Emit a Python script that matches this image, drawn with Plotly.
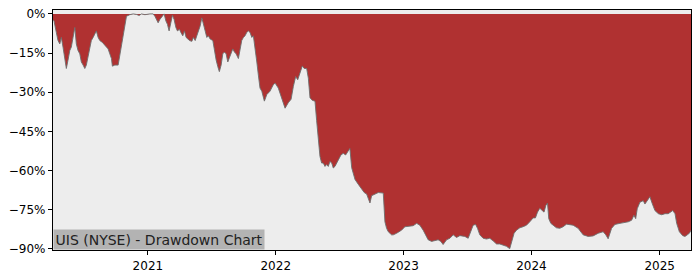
import datetime as dt
import plotly.graph_objects as go

# Decimal-year positions and drawdown values (%)
years = [
    2020.260, 2020.268, 2020.286, 2020.299, 2020.313, 2020.325, 2020.338, 2020.352, 2020.364, 2020.377,
    2020.391, 2020.403, 2020.416, 2020.430, 2020.442, 2020.455, 2020.469, 2020.481, 2020.495, 2020.508,
    2020.520, 2020.534, 2020.547, 2020.559, 2020.573, 2020.586, 2020.598, 2020.612, 2020.625, 2020.645,
    2020.664, 2020.677, 2020.690, 2020.703, 2020.716, 2020.723, 2020.742, 2020.768, 2020.781, 2020.794,
    2020.807, 2020.820, 2020.833, 2020.859, 2020.885, 2020.911, 2020.932, 2020.950, 2020.977, 2021.016,
    2021.041, 2021.055, 2021.067, 2021.080, 2021.094, 2021.109, 2021.127, 2021.141, 2021.153, 2021.166,
    2021.180, 2021.192, 2021.205, 2021.219, 2021.231, 2021.247, 2021.258, 2021.273, 2021.286, 2021.299,
    2021.313, 2021.325, 2021.344, 2021.356, 2021.370, 2021.383, 2021.395, 2021.409, 2021.422, 2021.434,
    2021.448, 2021.461, 2021.473, 2021.487, 2021.508, 2021.520, 2021.534, 2021.547, 2021.559, 2021.573,
    2021.586, 2021.598, 2021.612, 2021.625, 2021.638, 2021.651, 2021.664, 2021.677, 2021.690, 2021.708,
    2021.721, 2021.734, 2021.747, 2021.760, 2021.773, 2021.786, 2021.799, 2021.813, 2021.825, 2021.838,
    2021.852, 2021.864, 2021.877, 2021.891, 2021.911, 2021.930, 2021.955, 2021.981, 2021.995, 2022.020,
    2022.047, 2022.073, 2022.098, 2022.120, 2022.138, 2022.156, 2022.172, 2022.190, 2022.208, 2022.223,
    2022.242, 2022.255, 2022.268, 2022.286, 2022.307, 2022.320, 2022.333, 2022.346, 2022.359, 2022.372,
    2022.385, 2022.398, 2022.411, 2022.424, 2022.438, 2022.450, 2022.463, 2022.477, 2022.489, 2022.510,
    2022.528, 2022.547, 2022.563, 2022.580, 2022.594, 2022.620, 2022.645, 2022.672, 2022.692, 2022.711,
    2022.737, 2022.750, 2022.776, 2022.802, 2022.841, 2022.854, 2022.867, 2022.880, 2022.906, 2022.919,
    2022.945, 2022.984, 2023.010, 2023.049, 2023.075, 2023.102, 2023.127, 2023.153, 2023.166, 2023.192,
    2023.219, 2023.245, 2023.270, 2023.291, 2023.309, 2023.336, 2023.362, 2023.388, 2023.414, 2023.440,
    2023.479, 2023.505, 2023.526, 2023.544, 2023.563, 2023.578, 2023.596, 2023.622, 2023.648, 2023.674,
    2023.700, 2023.727, 2023.752, 2023.778, 2023.805, 2023.830, 2023.844, 2023.864, 2023.883, 2023.909,
    2023.934, 2023.961, 2023.987, 2024.013, 2024.031, 2024.047, 2024.065, 2024.083, 2024.098, 2024.112,
    2024.125, 2024.135, 2024.151, 2024.169, 2024.195, 2024.221, 2024.247, 2024.273, 2024.299, 2024.325,
    2024.364, 2024.403, 2024.442, 2024.481, 2024.520, 2024.559, 2024.580, 2024.598, 2024.625, 2024.651,
    2024.690, 2024.729, 2024.755, 2024.781, 2024.799, 2024.813, 2024.825, 2024.846, 2024.872, 2024.885,
    2024.903, 2024.924, 2024.938, 2024.963, 2024.990, 2025.016, 2025.042, 2025.067, 2025.102, 2025.120,
    2025.133, 2025.154, 2025.180, 2025.198, 2025.216, 2025.232, 2025.245,
]

drawdown = [
    -2.2, -2.7, -7.1, -10.2, -11.5, -9.0, -12.7, -16.5, -20.9, -17.7,
    -14.0, -12.7, -9.0, -5.2, -11.5, -14.0, -15.3, -18.4, -19.6, -20.9,
    -19.6, -16.5, -12.7, -10.2, -9.0, -7.8, -6.5, -9.0, -10.2, -10.9,
    -12.1, -12.7, -13.4, -15.3, -17.1, -20.0, -19.6, -19.6, -15.9, -12.1,
    -9.6, -5.2, -0.9, -0.3, 0.0, -0.2, -0.6, 0.0, -0.3, 0.0,
    0.0, -0.9, -2.1, -3.4, -2.1, -0.9, 0.0, -2.7, -4.0, -6.5,
    -3.4, -0.5, -2.1, -5.2, -6.5, -5.9, -7.1, -8.4, -6.5, -9.0,
    -9.6, -10.2, -10.5, -9.0, -10.2, -8.4, -6.5, -4.6, -1.5, -4.0,
    -6.5, -9.0, -8.4, -9.6, -10.2, -14.0, -17.7, -20.2, -22.1, -19.6,
    -15.3, -14.6, -15.3, -18.4, -16.5, -14.6, -13.4, -14.6, -15.3, -17.1,
    -14.0, -10.2, -9.0, -8.4, -7.1, -6.5, -7.1, -9.0, -8.4, -12.7,
    -18.4, -23.4, -28.4, -29.6, -33.4, -30.9, -29.6, -27.1, -26.5, -28.4,
    -32.1, -36.1, -34.0, -32.7, -27.7, -24.0, -25.2, -22.8, -19.9, -20.9,
    -20.9, -24.6, -32.1, -33.1, -33.4, -40.9, -48.4, -54.6, -57.1, -57.1,
    -58.4, -57.7, -58.4, -56.5, -57.1, -59.0, -58.4, -57.1, -55.9, -54.0,
    -53.4, -54.0, -52.8, -51.5, -58.9, -63.4, -65.2, -67.1, -68.4, -69.0,
    -72.4, -69.6, -69.0, -68.4, -68.6, -79.6, -82.1, -83.4, -84.6, -84.6,
    -84.0, -82.8, -81.5, -81.1, -81.1, -80.2, -80.9, -82.8, -84.0, -86.5,
    -87.1, -86.9, -86.5, -87.1, -88.3, -86.5, -85.9, -84.6, -85.6, -84.9,
    -85.2, -85.9, -82.8, -80.9, -80.6, -82.1, -84.6, -85.9, -86.2, -85.9,
    -86.9, -88.1, -88.1, -88.4, -89.0, -89.9, -87.7, -84.0, -82.8, -81.9,
    -81.5, -80.9, -79.6, -78.1, -78.1, -75.9, -74.4, -75.3, -75.9, -73.4,
    -72.4, -78.4, -80.2, -80.9, -81.9, -82.1, -81.5, -80.5, -80.6, -80.9,
    -82.1, -84.6, -85.2, -85.0, -84.0, -83.4, -84.6, -86.1, -82.1, -80.6,
    -80.2, -79.9, -79.6, -79.0, -77.1, -78.4, -74.6, -72.1, -71.5, -72.8,
    -71.5, -70.0, -72.1, -75.3, -76.5, -76.9, -76.5, -76.5, -75.3, -76.5,
    -80.2, -83.4, -84.9, -85.2, -84.6, -84.0, -82.9,
]

y_tick_vals = [0, -15, -30, -45, -60, -75, -90]
y_tick_text = ["0%", "\u221215%", "\u221230%", "\u221245%", "\u221260%", "\u221275%", "\u221290%"]
x_tick_years = [2021, 2022, 2023, 2024, 2025]
title_text = "UIS (NYSE) - Drawdown Chart"


def to_date(y):
    yr = int(y)
    start = dt.datetime(yr, 1, 1)
    days = (dt.datetime(yr + 1, 1, 1) - start).days
    return start + dt.timedelta(days=(y - yr) * days)


dates = [to_date(v) for v in years]

fig = go.Figure()
fig.add_trace(go.Scatter(
    x=dates, y=drawdown, mode="lines", fill="tozeroy",
    fillcolor="#b03131", line=dict(color="rgba(110,110,110,0.9)", width=1),
    hoverinfo="skip", showlegend=False,
))

axis_font = dict(family="DejaVu Sans", size=12, color="black")
fig.update_layout(
    width=700, height=280,
    margin=dict(l=53, r=9, t=7, b=28),
    paper_bgcolor="white", plot_bgcolor="#ededed",
    xaxis=dict(
        type="date", range=[dates[0], dates[-1]],
        tickvals=[dt.datetime(y, 1, 1) for y in x_tick_years],
        ticktext=[str(y) for y in x_tick_years],
        showgrid=False, zeroline=False, ticks="outside", ticklen=4, tickwidth=1,
        tickcolor="black", showline=True, linecolor="black", linewidth=1.3, mirror=True,
        tickfont=axis_font,
    ),
    yaxis=dict(
        range=[-90.4, 1.5], tickvals=y_tick_vals, ticktext=y_tick_text,
        showgrid=False, zeroline=False, ticks="outside", ticklen=4, tickwidth=1,
        tickcolor="black", showline=True, linecolor="black", linewidth=1.3, mirror=True,
        tickfont=axis_font,
    ),
    annotations=[dict(
        text=title_text, xref="paper", yref="paper", x=0, y=0,
        xanchor="left", yanchor="bottom", showarrow=False,
        font=dict(family="DejaVu Sans", size=14, color="#222222"),
        bgcolor="#b3b3b3", borderpad=1.5,
    )],
)

fig.write_html("out.html")
